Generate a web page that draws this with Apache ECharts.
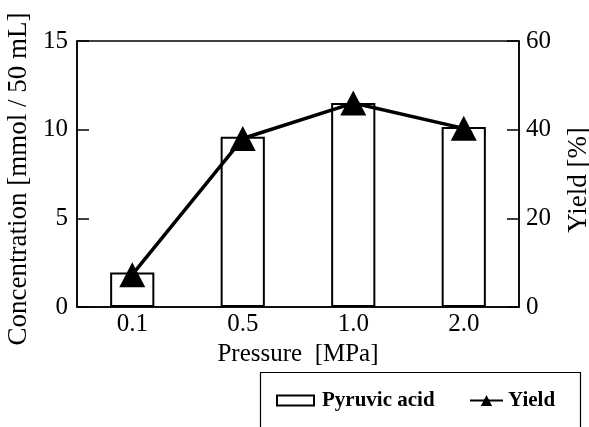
<!DOCTYPE html>
<html><head><meta charset="utf-8">
<script src="https://cdn.jsdelivr.net/npm/echarts@6/dist/echarts.min.js"></script>
<style>html,body{margin:0;padding:0;background:#fff}#c{width:589px;height:427px}</style>
</head><body><div id="c"></div>
<script>
const categories = ['0.1', '0.5', '1.0', '2.0'];
const pyruvicAcid = [1.95, 9.6, 11.5, 10.15];
const yieldPct = [7.3, 38, 46, 40.3];
const leftTicks = [0, 5, 10, 15];
const rightTicks = [0, 20, 40, 60];

const font = "'Liberation Serif', 'Times New Roman', serif";
const chart = echarts.init(document.getElementById('c'), null, {renderer: 'canvas'});
chart.setOption({
  backgroundColor: '#fff',
  animation: false,
  grid: {left: 77, right: 70, top: 41, bottom: 120, containLabel: false, outerBoundsMode: 'none',
    show: true, borderColor: '#000', borderWidth: 1.5, backgroundColor: 'transparent'},
  legend: [{
    data: [{name: 'Pyruvic acid', icon: 'rect'}],
    left: 276, top: 390, itemWidth: 37, itemHeight: 10, itemGap: 8, padding: 0,
    textStyle: {fontFamily: font, fontWeight: 'bold', fontSize: 21, color: '#000', padding: [0, 0, 0, 3]}
  }, {
    data: [{name: 'Yield'}],
    left: 469, top: 390, itemWidth: 33, itemHeight: 14, padding: 0,
    textStyle: {fontFamily: font, fontWeight: 'bold', fontSize: 21, color: '#000'}
  }],
  graphic: [{type: 'rect', shape: {x: 260.5, y: 372.5, width: 320, height: 70}, style: {fill: 'none', stroke: '#000', lineWidth: 1.2}}],
  xAxis: {
    type: 'category', data: categories,
    name: 'Pressure  [MPa]', nameLocation: 'middle', nameGap: 33,
    nameTextStyle: {fontFamily: font, fontSize: 25, color: '#000'},
    axisLine: {lineStyle: {color: '#000', width: 1.5}},
    axisTick: {inside: true, length: 11, lineStyle: {color: '#000', width: 1.5}},
    axisLabel: {fontFamily: font, fontSize: 25, color: '#000', margin: 5}
  },
  yAxis: [{
    type: 'value', min: 0, max: 15, interval: 5,
    name: 'Concentration [mmol / 50 mL]', nameLocation: 'middle', nameGap: 43,
    nameTextStyle: {fontFamily: font, fontSize: 27, color: '#000', padding: [0, 10, 0, 0]},
    axisLine: {show: true, lineStyle: {color: '#000', width: 1.5}},
    axisTick: {show: true, inside: true, length: 12, lineStyle: {color: '#000', width: 1.5}},
    axisLabel: {fontFamily: font, fontSize: 25, color: '#000', margin: 9,
      formatter: v => leftTicks.includes(v) ? String(v) : ''},
    splitLine: {show: false}
  }, {
    type: 'value', min: 0, max: 60, interval: 20, position: 'right',
    name: 'Yield [%]', nameLocation: 'middle', nameGap: 46,
    nameTextStyle: {fontFamily: font, fontSize: 27, color: '#000', padding: [0, 12, 0, 0]},
    axisLine: {show: true, lineStyle: {color: '#000', width: 1.5}},
    axisTick: {show: true, inside: true, length: 12, lineStyle: {color: '#000', width: 1.5}},
    axisLabel: {fontFamily: font, fontSize: 25, color: '#000', margin: 7,
      formatter: v => rightTicks.includes(v) ? String(v) : ''},
    splitLine: {show: false}
  }],
  series: [{
    name: 'Pyruvic acid', type: 'bar', data: pyruvicAcid, yAxisIndex: 0,
    barWidth: '40%',
    itemStyle: {color: '#fff', borderColor: '#000', borderWidth: 2}
  }, {
    name: 'Yield', type: 'line', data: yieldPct, yAxisIndex: 1,
    symbol: 'triangle', symbolSize: [26, 25],
    lineStyle: {color: '#000', width: 3.5},
    itemStyle: {color: '#000'}
  }]
});
</script></body></html>
